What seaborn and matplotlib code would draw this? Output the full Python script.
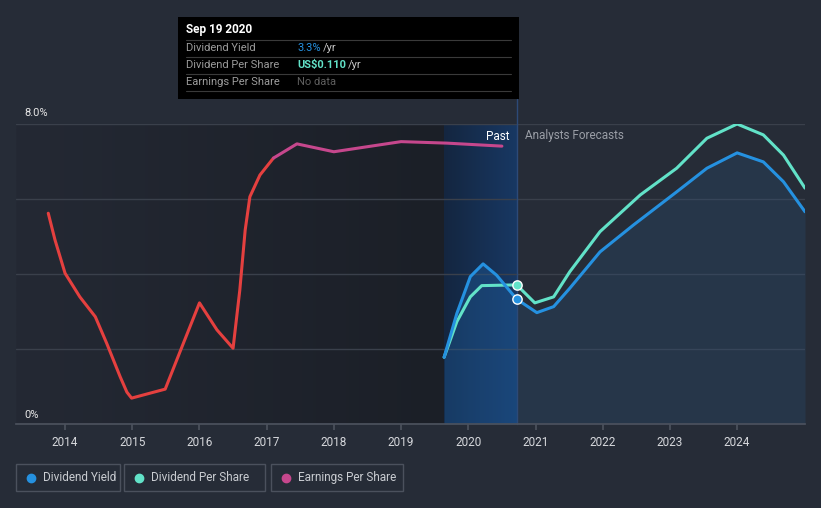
import numpy as np
import pandas as pd
import seaborn as sns
import matplotlib.pyplot as plt
from matplotlib.patches import Rectangle
from matplotlib.lines import Line2D
from matplotlib.colors import LinearSegmentedColormap

# Values (y in chart % units)
eps_years = [2013.75, 2013.85, 2014.0, 2014.22, 2014.45, 2014.62, 2014.82, 2014.92, 2014.99,
             2015.26, 2015.49, 2015.74, 2016.0, 2016.26, 2016.5, 2016.6, 2016.68,
             2016.75, 2016.9, 2017.1, 2017.45, 2018.0, 2019.0, 2019.68, 2020.5]
eps_values = [5.62, 4.91, 4.02, 3.39, 2.86, 2.15, 1.26, 0.85, 0.69,
              0.82, 0.93, 2.06, 3.23, 2.51, 2.02, 3.57, 5.17,
              6.06, 6.64, 7.09, 7.47, 7.26, 7.53, 7.49, 7.41]
eps_red_until = 2017.1

yield_years = [2019.64, 2019.83, 2020.03, 2020.22, 2020.42, 2020.72, 2021.02, 2021.27,
               2021.51, 2021.96, 2022.46, 2023.1, 2023.55, 2024.0, 2024.39, 2024.69, 2025.01]
yield_values = [1.78, 2.95, 3.93, 4.27, 3.97, 3.33, 2.97, 3.13,
                3.62, 4.59, 5.31, 6.19, 6.82, 7.23, 6.99, 6.46, 5.66]

dps_years = [2019.64, 2019.83, 2020.03, 2020.2, 2020.72, 2020.99, 2021.27, 2021.51,
             2021.96, 2022.56, 2023.1, 2023.55, 2024.0, 2024.39, 2024.69, 2025.01]
dps_values = [1.78, 2.73, 3.39, 3.69, 3.71, 3.23, 3.39, 4.06,
              5.13, 6.11, 6.82, 7.62, 8.0, 7.71, 7.17, 6.29]

xtick_years = list(range(2014, 2025))
tooltip_date = "Sep 19 2020"
tooltip_year = 2020.72
band_start = 2019.64

BG = "#262c37"
BLUE = "#2591e0"
TEAL = "#62e2c8"
MAGENTA = "#c6478d"
RED = "#e5403f"
GRID = "#3a404b"

sns.set_theme(style="dark")
plt.rcParams["font.family"] = ["Roboto", "DejaVu Sans"]

W, H = 821, 508
fig = plt.figure(figsize=(W / 100, H / 100), dpi=100, facecolor=BG)
ax = fig.add_axes([16 / W, (H - 424) / H, 789 / W, 300 / H])
ax.set_facecolor(BG)
x0, x1 = 2013.27, 2025.01

# darker "past" background with gradient
grad = np.linspace(0, 1, 256).reshape(1, -1)
past_cmap = LinearSegmentedColormap.from_list("past", ["#242934", "#1b1f27"])
ax.imshow(grad, extent=[x0, band_start, 0, 8], aspect="auto", cmap=past_cmap, zorder=0)
band_cmap = LinearSegmentedColormap.from_list("band", ["#142640", "#183863"])
ax.imshow(grad, extent=[band_start, tooltip_year, 0, 8], aspect="auto", cmap=band_cmap, zorder=0)
ax.set_xlim(x0, x1)
ax.set_ylim(0, 8)

ax.set_yticks([0, 2, 4, 6, 8])
ax.set_yticklabels([])
ax.grid(axis="y", color=GRID, lw=1)
ax.grid(axis="x", visible=False)
for s in ["top", "left", "right"]:
    ax.spines[s].set_visible(False)
ax.spines["bottom"].set_color("#4b515d")
ax.set_xticks(xtick_years)
ax.set_xticklabels([str(y) for y in xtick_years], color="#d6d8dc", fontsize=8.5)
ax.tick_params(axis="x", length=4, color="#4b515d", pad=5, bottom=True)
ax.tick_params(axis="y", length=0)

# area under dividend yield
yy = np.array(yield_years)
yv = np.array(yield_values)
past = yy <= tooltip_year
fut = yy >= tooltip_year
ax.fill_between(yy[past], 0, yv[past], color="#1f63a8", alpha=0.35, lw=0, zorder=1)
ax.fill_between(yy[fut], 0, yv[fut], color="#2a5a8c", alpha=0.22, lw=0, zorder=1)

ax.axvline(tooltip_year, ymin=0, ymax=1.083, color="#2c4a78", lw=1, clip_on=False, zorder=2)

# lines
line_kw = dict(lw=2.2, solid_joinstyle="round", solid_capstyle="round")
eps = pd.DataFrame({"year": eps_years, "value": eps_values})
sns.lineplot(data=eps[eps["year"] <= eps_red_until], x="year", y="value",
             color=RED, ax=ax, zorder=3, **line_kw)
sns.lineplot(data=eps[eps["year"] >= eps_red_until], x="year", y="value",
             color=MAGENTA, ax=ax, zorder=3, **line_kw)
sns.lineplot(x=dps_years, y=dps_values, color=TEAL, ax=ax, zorder=4, **line_kw)
sns.lineplot(x=yield_years, y=yield_values, color=BLUE, ax=ax, zorder=4, **line_kw)
ax.set_xlabel("")
ax.set_ylabel("")

i_y = yield_years.index(tooltip_year)
i_d = dps_years.index(tooltip_year)
ax.scatter([yield_years[i_y]], [yield_values[i_y]], s=45, color=BLUE, edgecolor="white", lw=1, zorder=5)
ax.scatter([dps_years[i_d]], [dps_values[i_d]], s=45, color=TEAL, edgecolor="white", lw=1, zorder=5)

ax.text(x0 + 0.12, 8.17, "8.0%", color="#e6e6e6", fontsize=8, va="bottom", ha="left")
ax.text(x0 + 0.12, 0.12, "0%", color="#e6e6e6", fontsize=8, va="bottom", ha="left")
ax.text(tooltip_year - 0.1, 7.68, "Past", color="white", fontsize=8.5, ha="right", va="center")
ax.text(tooltip_year + 0.12, 7.68, "Analysts Forecasts", color="#9a9ea6", fontsize=8.5, ha="left", va="center")


def fx(x):
    return x / W


def fy(y):
    return 1 - y / H


# tooltip box
fig.add_artist(Rectangle((fx(178), fy(99)), fx(341), 82 / H, transform=fig.transFigure,
                         facecolor="black", edgecolor="none", zorder=10))
fig.text(fx(186), fy(30), tooltip_date, color="white", fontsize=8.5, fontweight="bold",
         va="center", zorder=11)
rows = [("Dividend Yield", "3.3%", BLUE),
        ("Dividend Per Share", "US$0.110", TEAL),
        ("Earnings Per Share", "No data", None)]
for k, (lab, val, col) in enumerate(rows):
    yc = 48 + k * 17
    fig.add_artist(Line2D([fx(186), fx(511)], [fy(yc - 8.5)] * 2, transform=fig.transFigure,
                          color="#3a3a3a", lw=0.8, zorder=11))
    fig.text(fx(186), fy(yc), lab, color="#9c9c9c", fontsize=8, va="center", zorder=11)
    if col is None:
        fig.text(fx(297), fy(yc), val, color="#5f5f5f", fontsize=8, va="center", zorder=11)
    else:
        t = fig.text(fx(297), fy(yc), val, color=col, fontsize=8, va="center", zorder=11,
                     fontweight="bold" if col == TEAL else "normal")
        fig.canvas.draw()
        bb = t.get_window_extent()
        fig.text(bb.x1 / W + 2 / W, fy(yc), "/yr", color="#c8c8c8", fontsize=8, va="center", zorder=11)
fig.add_artist(Line2D([fx(186), fx(511)], [fy(91)] * 2, transform=fig.transFigure,
                      color="#3a3a3a", lw=0.8, zorder=11))

# legend boxes
legend_items = [("Dividend Yield", BLUE, 16, 120),
                ("Dividend Per Share", TEAL, 124, 265),
                ("Earnings Per Share", MAGENTA, 271, 403)]
for lab, col, xa, xb in legend_items:
    fig.add_artist(Rectangle((fx(xa), fy(491)), (xb - xa) / W, 27 / H, transform=fig.transFigure,
                             facecolor="none", edgecolor="#4b515d", lw=1))
    fig.add_artist(Line2D([fx(xa + 15)], [fy(477.5)], transform=fig.transFigure, marker="o",
                          markersize=6, color=col, lw=0))
    fig.text(fx(xa + 27), fy(477.5), lab, color="#c9ccd1", fontsize=8.5, va="center")

fig.savefig("out.png", dpi=100, facecolor=BG)
